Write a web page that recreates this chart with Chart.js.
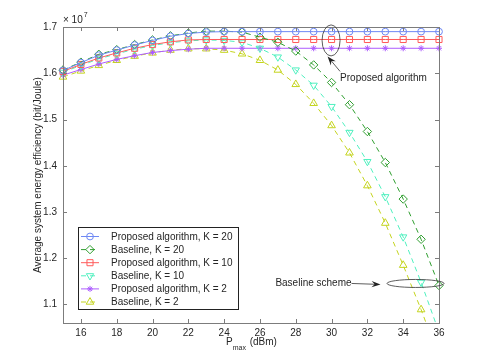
<!DOCTYPE html>
<html>
<head>
<meta charset="utf-8">
<script src="https://cdn.jsdelivr.net/npm/chart.js@4.4.1/dist/chart.umd.min.js"></script>
<style>
	html, body { margin: 0; padding: 0; background: #fff; }
	#wrap { width: 485px; height: 363px; }
</style>
</head>
<body>
<div id="wrap"><canvas id="chart" width="485" height="363"></canvas></div>
<script>
( function() {
	'use strict';

	// P_max (dBm)
	var pmax = [ 15, 16, 17, 18, 19, 20, 21, 22, 23, 24, 25, 26, 27, 28, 29, 30, 31, 32, 33, 34, 35, 36 ];

	// Energy efficiency, x 10^7 bit/Joule
	var proposedK20 = [ 1.606, 1.623, 1.639, 1.650, 1.661, 1.671, 1.680, 1.686, 1.689, 1.690, 1.690, 1.690, 1.690, 1.690, 1.690, 1.690, 1.690, 1.690, 1.690, 1.690, 1.690, 1.690 ];
	var baselineK20 = [ 1.607, 1.624, 1.641, 1.651, 1.662, 1.672, 1.681, 1.687, 1.691, 1.691, 1.689, 1.678, 1.667, 1.648, 1.618, 1.580, 1.532, 1.474, 1.407, 1.328, 1.241, 1.141 ];
	var proposedK10 = [ 1.604, 1.619, 1.633, 1.644, 1.654, 1.662, 1.668, 1.672, 1.673, 1.673, 1.673, 1.673, 1.673, 1.673, 1.673, 1.673, 1.673, 1.673, 1.673, 1.673, 1.673, 1.673 ];
	var baselineK10 = [ 1.602, 1.617, 1.631, 1.642, 1.652, 1.660, 1.666, 1.670, 1.672, 1.671, 1.667, 1.654, 1.635, 1.607, 1.574, 1.528, 1.472, 1.409, 1.333, 1.246, 1.148, 1.040 ];
	var proposedK2 = [ 1.596, 1.608, 1.620, 1.630, 1.638, 1.645, 1.649, 1.652, 1.654, 1.654, 1.654, 1.654, 1.654, 1.654, 1.654, 1.654, 1.654, 1.654, 1.654, 1.654, 1.654, 1.654 ];
	var baselineK2 = [ 1.592, 1.605, 1.617, 1.628, 1.637, 1.644, 1.650, 1.653, 1.653, 1.650, 1.642, 1.628, 1.607, 1.576, 1.535, 1.487, 1.428, 1.357, 1.276, 1.185, 1.089, 0.985 ];

	var seriesLabels = [
		'Proposed algorithm, K = 20',
		'Baseline, K = 20',
		'Proposed algorithm, K = 10',
		'Baseline, K = 10',
		'Proposed algorithm, K = 2',
		'Baseline, K = 2'
	];

	var xTickValues = [ 16, 18, 20, 22, 24, 26, 28, 30, 32, 34, 36 ];
	var yTickValues = [ 1.1, 1.2, 1.3, 1.4, 1.5, 1.6, 1.7 ];

	var FONT = '"Liberation Sans", Arial, Helvetica, sans-serif';
	var TEXT = '#262626';
	var FRAME = '#7c7c7c';

	function toPoints( values ) {
		return values.map( function( v, i ) {
			return { x: pmax[ i ], y: v };
		} );
	}

	function series( label, values, color, style, radius, dashed, rotation ) {
		return {
			label: label,
			data: toPoints( values ),
			borderColor: color,
			backgroundColor: 'rgba(0,0,0,0)',
			borderWidth: 1,
			borderDash: dashed ? [ 5, 4 ] : [],
			pointStyle: style,
			pointRadius: radius,
			pointRotation: rotation || 0,
			pointBorderColor: color,
			pointBackgroundColor: 'rgba(0,0,0,0)',
			pointBorderWidth: 1,
			pointHoverRadius: radius,
			tension: 0,
			clip: { left: 8, top: 8, right: 8, bottom: 0 }
		};
	}

	var datasets = [
		series( seriesLabels[ 0 ], proposedK20, '#6f89f4', 'circle', 3.4, false ),
		series( seriesLabels[ 1 ], baselineK20, '#2f9e2f', 'rectRot', 4.2, true ),
		series( seriesLabels[ 2 ], proposedK10, '#ff5a5a', 'rect', 4.3, false ),
		series( seriesLabels[ 3 ], baselineK10, '#4ff0bf', 'triangle', 4.2, true, 180 ),
		series( seriesLabels[ 4 ], proposedK2, '#ad5cff', 'star', 3, false ),
		series( seriesLabels[ 5 ], baselineK2, '#c4d41e', 'triangle', 4.4, true )
	];

	function marker( ctx, ds, x, y ) {
		ctx.save();
		ctx.strokeStyle = ds.pointBorderColor;
		ctx.fillStyle = 'rgba(0,0,0,0)';
		ctx.lineWidth = 1;
		ctx.setLineDash( [] );
		if ( Chart.helpers && Chart.helpers.drawPoint ) {
			Chart.helpers.drawPoint( ctx, {
				pointStyle: ds.pointStyle,
				radius: ds.pointRadius,
				rotation: ds.pointRotation,
				borderWidth: 1
			}, x, y );
		} else {
			ctx.beginPath();
			ctx.arc( x, y, ds.pointRadius, 0, Math.PI * 2 );
			ctx.stroke();
		}
		ctx.restore();
	}

	function arrow( ctx, x0, y0, x1, y1 ) {
		var ang = Math.atan2( y1 - y0, x1 - x0 );
		var len = 9;
		var half = 3.2;
		ctx.beginPath();
		ctx.moveTo( x0, y0 );
		ctx.lineTo( x1 - Math.cos( ang ) * len * 0.6, y1 - Math.sin( ang ) * len * 0.6 );
		ctx.stroke();
		ctx.beginPath();
		ctx.moveTo( x1, y1 );
		ctx.lineTo( x1 - Math.cos( ang ) * len - Math.sin( ang ) * half, y1 - Math.sin( ang ) * len + Math.cos( ang ) * half );
		ctx.lineTo( x1 - Math.cos( ang ) * len * 0.65, y1 - Math.sin( ang ) * len * 0.65 );
		ctx.lineTo( x1 - Math.cos( ang ) * len + Math.sin( ang ) * half, y1 - Math.sin( ang ) * len - Math.cos( ang ) * half );
		ctx.closePath();
		ctx.fill();
	}

	/**
	 * MATLAB-like frame: box, inward ticks, exponent, x title, notes, legend.
	 */
	var framePlugin = {
		id: 'matlabFrame',
		afterDraw: function( chart ) {
			var ctx = chart.ctx;
			var area = chart.chartArea;
			var xs = chart.scales.x;
			var ys = chart.scales.y;

			ctx.save();

			// box + ticks
			ctx.strokeStyle = FRAME;
			ctx.lineWidth = 1;
			ctx.strokeRect( area.left + 0.5, area.top + 0.5, area.right - area.left, area.bottom - area.top );
			ctx.beginPath();
			xTickValues.forEach( function( v ) {
				var px = Math.round( xs.getPixelForValue( v ) ) + 0.5;
				ctx.moveTo( px, area.bottom );
				ctx.lineTo( px, area.bottom - 4 );
				ctx.moveTo( px, area.top );
				ctx.lineTo( px, area.top + 4 );
			} );
			yTickValues.forEach( function( v ) {
				var py = Math.round( ys.getPixelForValue( v ) ) + 0.5;
				ctx.moveTo( area.left, py );
				ctx.lineTo( area.left + 4, py );
				ctx.moveTo( area.right, py );
				ctx.lineTo( area.right - 4, py );
			} );
			ctx.stroke();

			// exponent
			ctx.fillStyle = TEXT;
			ctx.textBaseline = 'middle';
			ctx.textAlign = 'left';
			ctx.font = '10px ' + FONT;
			ctx.fillText( '\u00d7 10', area.left, area.top - 7 );
			var ew = ctx.measureText( '\u00d7 10' ).width;
			ctx.font = '7px ' + FONT;
			ctx.fillText( '7', area.left + ew + 1, area.top - 12 );

			// x title with subscript
			var cx = ( area.left + area.right ) / 2;
			var ty = area.bottom + 19;
			ctx.font = '10px ' + FONT;
			var wP = ctx.measureText( 'P' ).width;
			var wUnit = ctx.measureText( ' (dBm)' ).width;
			ctx.font = '7px ' + FONT;
			var wSub = ctx.measureText( 'max' ).width;
			var x0 = cx - ( wP + wSub + wUnit ) / 2;
			ctx.font = '10px ' + FONT;
			ctx.fillText( 'P', x0, ty );
			ctx.font = '7px ' + FONT;
			ctx.fillText( 'max', x0 + wP, ty + 6.5 );
			ctx.font = '10px ' + FONT;
			ctx.fillText( ' (dBm)', x0 + wP + wSub + 1, ty );

			// annotations
			ctx.strokeStyle = '#333';
			ctx.fillStyle = '#222';
			ctx.lineWidth = 0.8;
			var ex = xs.getPixelForValue( 30 ) - 0.5;
			var ey = ys.getPixelForValue( 1.671 );
			ctx.beginPath();
			ctx.ellipse( ex, ey, 9, 15.5, 0, 0, Math.PI * 2 );
			ctx.stroke();
			arrow( ctx, ex + 9, ey + 31, ex - 3.5, ey + 16 );
			ctx.fillStyle = TEXT;
			ctx.font = '10px ' + FONT;
			ctx.fillText( 'Proposed algorithm', ex + 9, ey + 38 );

			var bx = xs.getPixelForValue( 34.69 );
			var by = ys.getPixelForValue( 1.1455 );
			ctx.beginPath();
			ctx.ellipse( bx, by, 28.5, 4, 0, 0, Math.PI * 2 );
			ctx.stroke();
			ctx.fillStyle = '#222';
			arrow( ctx, bx - 64, by, bx - 35, by + 1 );
			ctx.fillStyle = TEXT;
			ctx.textAlign = 'right';
			ctx.fillText( 'Baseline scheme', bx - 64, by );

			// legend
			var lx = area.left + 15;
			var ly = area.bottom - 96;
			var lw = 160;
			var lh = 82;
			ctx.fillStyle = '#fff';
			ctx.fillRect( lx, ly, lw, lh );
			ctx.strokeStyle = '#222';
			ctx.lineWidth = 1;
			ctx.strokeRect( lx + 0.5, ly + 0.5, lw, lh );
			ctx.textAlign = 'left';
			chart.data.datasets.forEach( function( ds, i ) {
				var ry = ly + 9.5 + i * 13.1;
				ctx.save();
				ctx.strokeStyle = ds.borderColor;
				ctx.lineWidth = 1;
				ctx.setLineDash( ds.borderDash );
				ctx.beginPath();
				ctx.moveTo( lx + 3, ry );
				ctx.lineTo( lx + 21, ry );
				ctx.stroke();
				ctx.restore();
				marker( ctx, ds, lx + 12, ry );
				ctx.fillStyle = TEXT;
				ctx.font = '10px ' + FONT;
				ctx.fillText( ds.label, lx + 33, ry + 0.5 );
			} );

			ctx.restore();
		}
	};

	new Chart( document.getElementById( 'chart' ), {
		type: 'line',
		data: { datasets: datasets },
		options: {
			responsive: false,
			animation: false,
			devicePixelRatio: 1,
			events: [],
			layout: { padding: { left: 0, right: 46, top: 27, bottom: 0 } },
			plugins: {
				legend: { display: false },
				tooltip: { enabled: false }
			},
			scales: {
				x: {
					type: 'linear',
					min: 15,
					max: 36,
					grid: { display: false, drawTicks: false },
					border: { display: false },
					ticks: {
						color: TEXT,
						padding: 4,
						maxRotation: 0,
						font: { size: 10, family: FONT }
					},
					afterBuildTicks: function( scale ) {
						scale.ticks = xTickValues.map( function( v ) {
							return { value: v };
						} );
					},
					afterFit: function( scale ) {
						scale.height = 40;
					}
				},
				y: {
					type: 'linear',
					min: 1.06,
					max: 1.7,
					grid: { display: false, drawTicks: false },
					border: { display: false },
					ticks: {
						color: TEXT,
						padding: 6,
						font: { size: 10, family: FONT },
						callback: function( v ) {
							return Number( v ).toFixed( 1 );
						}
					},
					afterBuildTicks: function( scale ) {
						scale.ticks = yTickValues.map( function( v ) {
							return { value: v };
						} );
					},
					title: {
						display: true,
						text: 'Average system energy efficiency (bit/Joule)',
						color: TEXT,
						font: { size: 10, family: FONT },
						padding: { top: 32, bottom: 0 }
					},
					afterFit: function( scale ) {
						scale.width = 63;
					}
				}
			}
		},
		plugins: [ framePlugin ]
	} );
} )();
</script>
</body>
</html>
